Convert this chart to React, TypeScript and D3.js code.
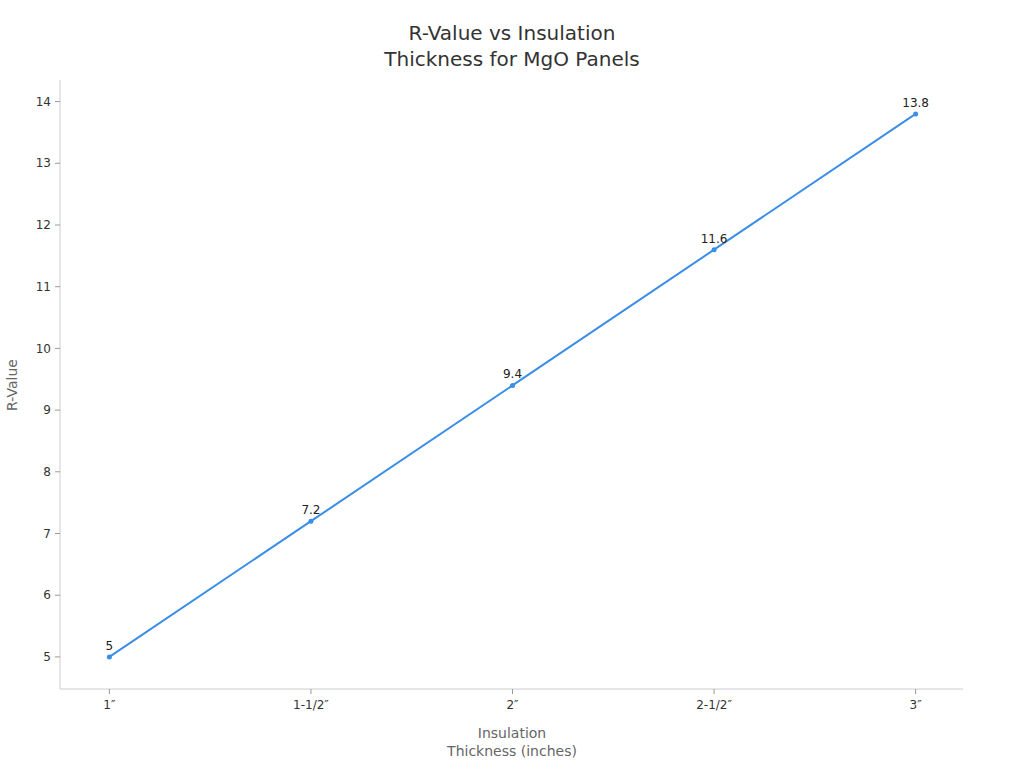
import React from "react";
import * as d3 from "d3";

const categories = ["1″", "1-1/2″", "2″", "2-1/2″", "3″"];
const rValues = [5, 7.2, 9.4, 11.6, 13.8];
const yTicks = [5, 6, 7, 8, 9, 10, 11, 12, 13, 14];

const W = 1024;
const H = 768;
const left = 60;
const right = 963;
const top = 80;
const bottom = 689;
const font = "DejaVu Sans, sans-serif";

export default function App() {
  const x = d3.scalePoint<string>().domain(categories).range([left + 1, right + 1]).padding(0.24);
  const y = d3.scaleLinear().domain([4.48, 14.35]).range([bottom, top]);
  const line = d3
    .line<number>()
    .x((_, i) => x(categories[i]) as number)
    .y((d) => y(d));

  return (
    <svg
      width={W}
      height={H}
      style={{ position: "absolute", left: 0, top: 0, background: "#fff" }}
      fontFamily={font}
    >
      <text x={512} y={40} textAnchor="middle" fontSize={20} fill="#333">
        R-Value vs Insulation
      </text>
      <text x={512} y={66} textAnchor="middle" fontSize={20} fill="#333">
        Thickness for MgO Panels
      </text>

      {/* axes */}
      <line x1={left} x2={left} y1={top} y2={bottom} stroke="#ccc" />
      <line x1={left} x2={right} y1={bottom} y2={bottom} stroke="#ccc" />

      {yTicks.map((t) => (
        <g key={t}>
          <line x1={left - 5} x2={left} y1={y(t)} y2={y(t)} stroke="#999" />
          <text x={left - 9} y={y(t)} dy="0.35em" textAnchor="end" fontSize={12} fill="#333">
            {t}
          </text>
        </g>
      ))}
      {categories.map((c) => (
        <g key={c}>
          <line x1={x(c)} x2={x(c)} y1={bottom} y2={bottom + 5} stroke="#999" />
          <text x={x(c)} y={bottom + 16} dy="0.35em" textAnchor="middle" fontSize={12} fill="#333">
            {c}
          </text>
        </g>
      ))}

      <text x={512} y={738} textAnchor="middle" fontSize={14} fill="#666">
        Insulation
      </text>
      <text x={512} y={756} textAnchor="middle" fontSize={14} fill="#666">
        Thickness (inches)
      </text>
      <text
        transform={`translate(17,${385}) rotate(-90)`}
        textAnchor="middle"
        fontSize={14}
        fill="#666"
      >
        R-Value
      </text>

      <path d={line(rValues) || ""} fill="none" stroke="#3a8ee6" strokeWidth={2} />
      {rValues.map((v, i) => (
        <g key={i}>
          <circle cx={x(categories[i])} cy={y(v)} r={2.5} fill="#3a8ee6" />
          <text x={x(categories[i])} y={y(v) - 7} textAnchor="middle" fontSize={12} fill="#222">
            {v}
          </text>
        </g>
      ))}
    </svg>
  );
}
